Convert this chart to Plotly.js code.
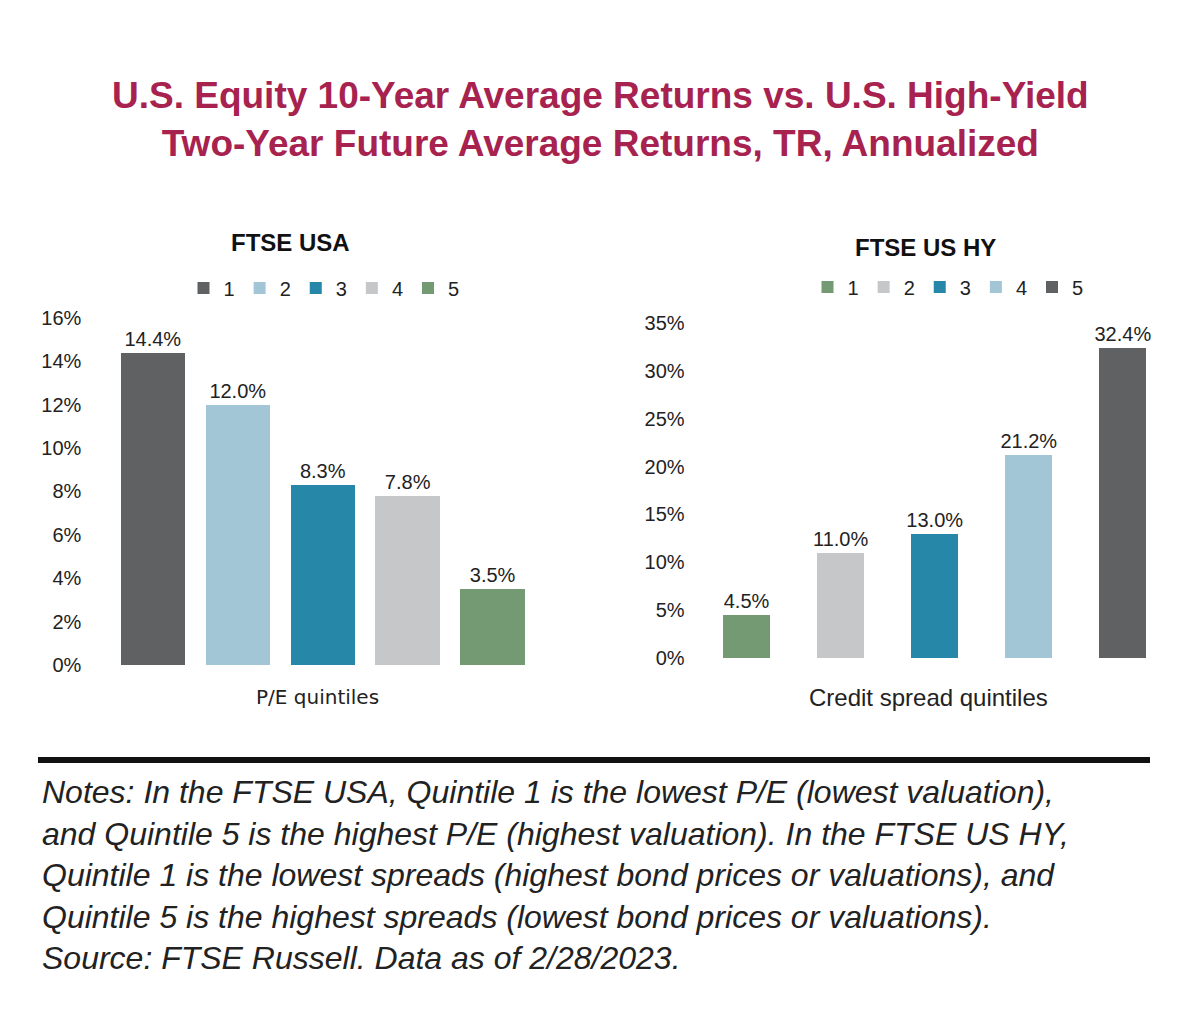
<!DOCTYPE html>
<html>
<head>
<meta charset="utf-8">
<script src="https://cdn.plot.ly/plotly-3.0.1.min.js"></script>
<style>body{margin:0;background:#fff}#gd{width:1200px;height:1035px}</style>
</head>
<body>
<div id="gd"></div>
<script>
const quintiles = ['1', '2', '3', '4', '5'];
const usaValues = [14.4, 12.0, 8.3, 7.8, 3.5];
const hyValues = [4.5, 11.0, 13.0, 21.2, 32.4];
const usaColors = ['#606163', '#a3c6d6', '#2787a8', '#c6c7c8', '#739a72'];
const hyColors = ['#739a72', '#c6c7c8', '#2787a8', '#a3c6d6', '#606163'];

const txtFont = {family: 'Liberation Sans, Arial, sans-serif', size: 20, color: '#222'};
let data = [];
quintiles.forEach((q, i) => {
    data.push({
        x: [q], y: [usaValues[i]], name: q, type: 'bar', width: 0.76,
        marker: {color: usaColors[i]}, text: [usaValues[i].toFixed(1) + '%'],
        textposition: 'outside', cliponaxis: false, constraintext: 'none', textfont: txtFont,
        xaxis: 'x', yaxis: 'y', legend: 'legend', hoverinfo: 'y'
    });
});
quintiles.forEach((q, i) => {
    data.push({
        x: [q], y: [hyValues[i]], name: q, type: 'bar', width: 0.5,
        marker: {color: hyColors[i]}, text: [hyValues[i].toFixed(1) + '%'],
        textposition: 'outside', cliponaxis: false, constraintext: 'none', textfont: txtFont,
        xaxis: 'x2', yaxis: 'y2', legend: 'legend2', hoverinfo: 'y'
    });
});

const legendBase = {
    orientation: 'h', xanchor: 'center', yanchor: 'middle',
    font: {family: 'Liberation Sans, Arial, sans-serif', size: 20, color: '#222'},
    itemwidth: 30, traceorder: 'normal'
};

function note(text, x, y, size, extra) {
    return Object.assign({text: text, xref: 'paper', yref: 'paper', x: x / 1200, y: 1 - y / 1035,
        xanchor: 'center', yanchor: 'middle', showarrow: false,
        font: {family: 'Liberation Sans, Arial, sans-serif', size: size, color: '#111'}}, extra || {});
}

let layout = {
    width: 1200, height: 1035,
    margin: {l: 0, r: 0, t: 0, b: 0},
    paper_bgcolor: '#fff', plot_bgcolor: '#fff',
    barmode: 'overlay', bargap: 0,
    showlegend: true,
    xaxis: {domain: [0.092, 0.446], showticklabels: false, ticks: '', showline: false, zeroline: false},
    yaxis: {domain: [0.3575, 0.6928], range: [0, 16], dtick: 2, ticksuffix: '%', showgrid: false,
        zeroline: false, tickfont: txtFont, ticklabelstandoff: 28},
    xaxis2: {domain: [0.583, 0.975], showticklabels: false, ticks: '', showline: false, zeroline: false},
    yaxis2: {domain: [0.3643, 0.688], range: [0, 35], dtick: 5, ticksuffix: '%', showgrid: false,
        zeroline: false, tickfont: txtFont, anchor: 'x2', ticklabelstandoff: 14},
    legend: Object.assign({}, legendBase, {x: 0.27, y: 1 - 288 / 1035}),
    legend2: Object.assign({}, legendBase, {x: 0.79, y: 1 - 287 / 1035}),
    annotations: [
        note('<b>U.S. Equity 10-Year Average Returns vs. U.S. High-Yield<br>Two-Year Future Average Returns, TR, Annualized</b>',
            600, 120, 37, {font: {family: 'Liberation Sans, Arial, sans-serif', size: 37, color: '#a7224f'}}),
        note('<b>FTSE USA</b>', 290, 243, 24),
        note('<b>FTSE US HY</b>', 925, 247, 24),
        note('P/E quintiles', 317, 697, 21, {font: {family: 'DejaVu Sans, sans-serif', size: 20, color: '#222'}}),
        note('Credit spread quintiles', 928, 697, 24, {font: {family: 'Liberation Sans, Arial, sans-serif', size: 24, color: '#222'}}),
        note('<i>Notes: In the FTSE USA, Quintile 1 is the lowest P/E (lowest valuation),<br>' +
            'and Quintile 5 is the highest P/E (highest valuation). In the FTSE US HY,<br>' +
            'Quintile 1 is the lowest spreads (highest bond prices or valuations), and<br>' +
            'Quintile 5 is the highest spreads (lowest bond prices or valuations).<br>' +
            'Source: FTSE Russell. Data as of 2/28/2023.</i>',
            40, 772, 32, {xanchor: 'left', yanchor: 'top', align: 'left',
                font: {family: 'Liberation Sans, Arial, sans-serif', size: 32, color: '#222'}})
    ],
    shapes: [
        {type: 'line', xref: 'paper', yref: 'paper', x0: 38 / 1200, x1: 1150 / 1200,
            y0: 1 - 760 / 1035, y1: 1 - 760 / 1035, line: {color: '#111', width: 6}}
    ]
};

Plotly.newPlot('gd', data, layout, {displayModeBar: false, staticPlot: true});
</script>
</body>
</html>
